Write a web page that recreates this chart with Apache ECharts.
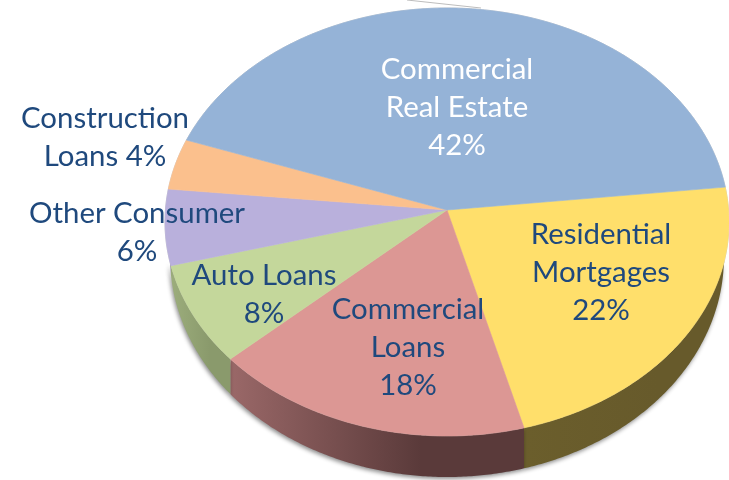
<!DOCTYPE html>
<html>
<head>
<meta charset="utf-8">
<style>html,body{margin:0;padding:0;background:#fff}#c{width:729px;height:480px}</style>
<script src="https://cdn.jsdelivr.net/npm/echarts@6/dist/echarts.min.js"></script>
</head>
<body>
<div id="c"></div>
<script>
// Data, clockwise from the right-hand edge of the pie
const categories = ['Residential Mortgages','Commercial Loans','Auto Loans','Other Consumer','Construction Loans','Commercial Real Estate'];
const shares = [22, 18, 8, 6, 4, 42];

// Styling
const topColors = ['#FFDF6B','#DC9794','#C4D79B','#B9B0DC','#FBC08D','#95B3D7'];
const wallColors = [['#6B5E2C','#675A2B'],['#9A6868','#5A3A3A'],['#9CAD7C','#8A9A6C'],['#8A84A0','#8A84A0'],['#B08A60','#B08A60'],['#6A7F99','#6A7F99']];
const labelTexts = ['Residential\nMortgages\n22%','Commercial\nLoans\n18%','Auto Loans\n8%','Other Consumer\n6%','Construction\nLoans 4%','Commercial\nReal Estate\n42%'];
const labelColors = ['#1F497D','#1F497D','#1F497D','#1F497D','#1F497D','#FFFFFF'];
const labelCenters = [[601,273],[408,348],[264,295],[137,233],[105,138],[457,108]];

// Perspective geometry of the pie
const face = {cx:447, cy:222, rx:282, ry:214};
const base = {cx:447, cy:257, rx:277, ry:220};
const apexShift = -0.056;
const startDeg = -6.2;
const warpSin = 2.81;
const warpCos = -0.93;
const total = shares.reduce((a,b)=>a+b,0);

function rimPoint(sweep){
  const r = sweep*Math.PI/180;
  const deg = startDeg + sweep + warpSin*Math.sin(r) + warpCos*(1-Math.cos(r));
  const t = deg*Math.PI/180, s = Math.sin(t), c = Math.cos(t), a = apexShift;
  const d = 1 + a*s;
  const ny = (s + a)/d, nx = c*Math.sqrt(1-a*a)/d;
  return [face.cx + face.rx*nx, face.cy + face.ry*ny];
}
function sliceArc(i){
  let from = 0;
  for(let k=0;k<i;k++) from += shares[k]/total*360;
  const to = from + shares[i]/total*360, pts = [];
  const n = Math.ceil((to-from)*2);
  for(let k=0;k<=n;k++) pts.push(rimPoint(from+(to-from)*k/n));
  return pts;
}
const rimApex = [face.cx, face.cy + face.ry*apexShift];

function renderTop(params, api){
  const i = params.dataIndex;
  return {type:'polygon', silent:true,
    shape:{points:[rimApex].concat(sliceArc(i))},
    style:{fill:topColors[i], stroke:topColors[i], lineWidth:0.6}};
}
function renderWall(params, api){
  const i = params.dataIndex, top = [], bot = [];
  sliceArc(i).forEach(p=>{
    if(p[1] < face.cy) return;
    const u = (p[0]-base.cx)/base.rx;
    const yb = Math.abs(u)<1 ? base.cy + base.ry*Math.sqrt(1-u*u) : p[1];
    top.push(p); bot.push([p[0], Math.max(p[1], yb)]);
  });
  if(top.length<2) return {type:'group', children:[]};
  const xs = top.map(p=>p[0]), x0 = Math.min.apply(null,xs), x1 = Math.max.apply(null,xs);
  return {type:'polygon', silent:true,
    shape:{points:top.concat(bot.reverse())},
    style:{
      fill:new echarts.graphic.LinearGradient(x0,0,x1,0,[
        {offset:0,color:wallColors[i][0]},{offset:0.65,color:wallColors[i][1]},{offset:1,color:wallColors[i][1]}],true),
      shadowBlur:4, shadowColor:'rgba(0,0,0,0.45)', shadowOffsetY:2, shadowOffsetX:-1
    }};
}
function renderRim(params, api){
  const pts = [];
  for(let d=0;d<=360;d+=1) pts.push(rimPoint(d));
  return {type:'polyline', silent:true, shape:{points:pts},
    style:{fill:'none', stroke:'rgba(120,120,120,0.35)', lineWidth:1}};
}

const chart = echarts.init(document.getElementById('c'), null, {renderer:'canvas'});
chart.setOption({
  animation:false,
  backgroundColor:'#ffffff',
  tooltip:{show:false},
  series:[
    {type:'custom', coordinateSystem:'none', z:1, renderItem:renderWall, data:shares},
    {type:'custom', coordinateSystem:'none', z:2, renderItem:renderRim, data:[total]},
    {type:'custom', coordinateSystem:'none', z:3, renderItem:renderTop, data:shares}
  ],
  graphic:[
    {type:'line', silent:true, z:5, shape:{x1:407,y1:0,x2:481,y2:8}, style:{stroke:'#BDBDBD',lineWidth:1}}
  ].concat(labelTexts.map((t,i)=>({
    type:'text', silent:true, z:10, x:labelCenters[i][0], y:labelCenters[i][1],
    style:{text:t, fill:labelColors[i], font:'29.4px Lato', lineHeight:38,
      textAlign:'center', textVerticalAlign:'middle'}
  })))
});
</script>
</body>
</html>
